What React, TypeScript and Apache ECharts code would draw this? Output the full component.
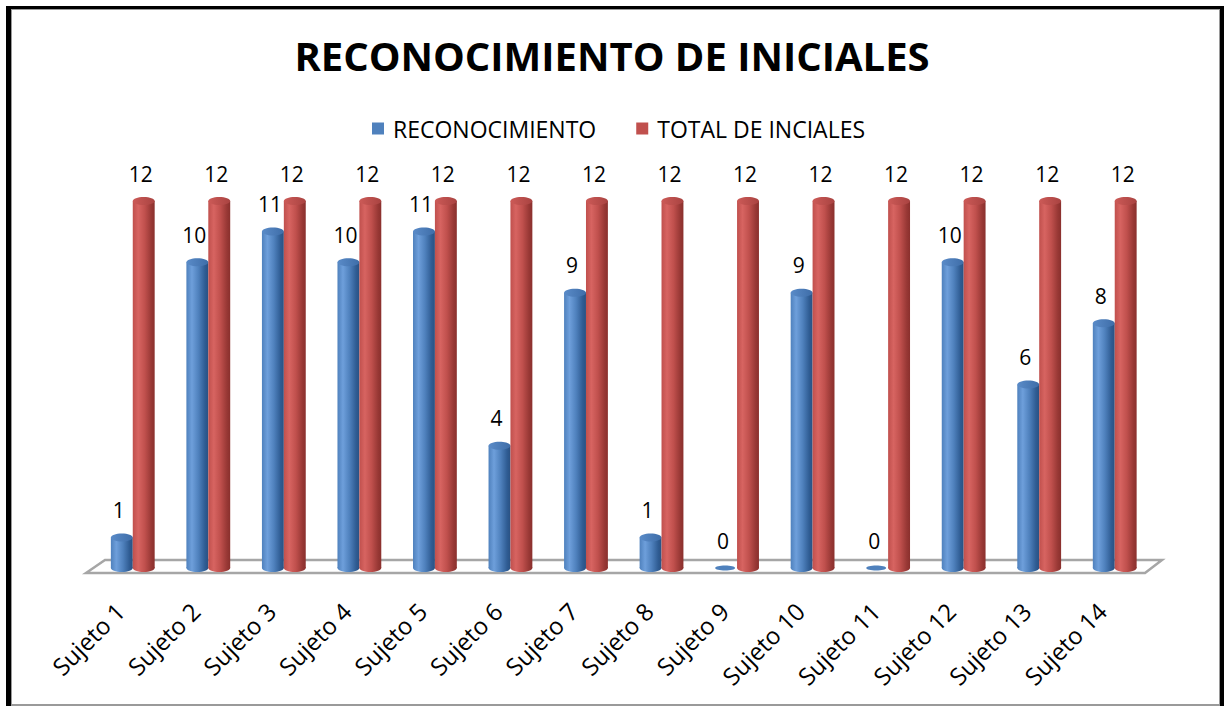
import React, { useEffect, useRef } from "react";
import * as echarts from "echarts";

const categories = [
  "Sujeto 1", "Sujeto 2", "Sujeto 3", "Sujeto 4", "Sujeto 5", "Sujeto 6", "Sujeto 7",
  "Sujeto 8", "Sujeto 9", "Sujeto 10", "Sujeto 11", "Sujeto 12", "Sujeto 13", "Sujeto 14",
];
const reconocimiento = [1, 10, 11, 10, 11, 4, 9, 1, 0, 9, 0, 10, 6, 8];
const totalIniciales = [12, 12, 12, 12, 12, 12, 12, 12, 12, 12, 12, 12, 12, 12];

const FONT = "Open Sans";

type Pal = { dark: string; light: string; mid: string; edge: string; cap1: string; cap2: string };
const bluePal: Pal = { dark: "#2F5C93", light: "#6E9FDB", mid: "#4F81BD", edge: "#2A5182", cap1: "#5A8BC8", cap2: "#3E6DA8" };
const redPal: Pal = { dark: "#983835", light: "#D76461", mid: "#C0504D", edge: "#8A302D", cap1: "#CC5A57", cap2: "#A94341" };

function makeRenderItem(sign: number, pal: Pal) {
  return (params: any, api: any) => {
    const idx = api.value(0);
    const val = api.value(1);
    const base = api.coord([idx, 0]);
    const top = api.coord([idx, val]);
    const band = api.size([1, 0])[0];
    const w = band * 0.29;
    const cx = base[0] + (sign * w) / 2;
    const ry = 4;
    const grad = new echarts.graphic.LinearGradient(0, 0, 1, 0, [
      { offset: 0, color: pal.mid },
      { offset: 0.25, color: pal.light },
      { offset: 0.55, color: pal.mid },
      { offset: 0.85, color: pal.dark },
      { offset: 1, color: pal.edge },
    ]);
    const capGrad = new echarts.graphic.LinearGradient(0, 0, 1, 0, [
      { offset: 0, color: pal.cap1 },
      { offset: 1, color: pal.cap2 },
    ]);
    const children: any[] = [];
    if (val > 0) {
      children.push({ type: "ellipse", shape: { cx, cy: base[1], rx: w / 2, ry }, style: { fill: grad } });
      children.push({
        type: "rect",
        shape: { x: cx - w / 2, y: top[1], width: w, height: base[1] - top[1] },
        style: { fill: grad },
      });
      children.push({ type: "ellipse", shape: { cx, cy: top[1], rx: w / 2, ry }, style: { fill: capGrad } });
    } else {
      children.push({
        type: "ellipse",
        shape: { cx: cx - 1, cy: base[1], rx: w / 2 - 1, ry: 2.5 },
        style: { fill: pal.mid },
      });
    }
    children.push({
      type: "text",
      style: {
        text: String(val),
        x: cx - 3,
        y: top[1] - 17,
        align: "center",
        verticalAlign: "bottom",
        fontSize: 21,
        fontFamily: FONT,
        fill: "#000",
      },
    });
    return { type: "group", children };
  };
}

export default function App() {
  const ref = useRef<HTMLDivElement>(null);
  useEffect(() => {
    if (!ref.current) return;
    const chart = echarts.init(ref.current, undefined, { renderer: "svg" });
    chart.setOption({
      animation: false,
      backgroundColor: "#ffffff",
      title: {
        text: "RECONOCIMIENTO DE INICIALES",
        left: "center",
        top: 30,
        textStyle: { fontFamily: FONT, fontWeight: "bold", fontSize: 40, color: "#000" },
      },
      legend: {
        top: 112,
        left: 367,
        icon: "rect",
        itemWidth: 12,
        itemHeight: 12,
        itemGap: 40,
        textStyle: { fontFamily: FONT, fontSize: 23, color: "#000", padding: [0, 0, 0, 4] },
        data: ["RECONOCIMIENTO", "TOTAL DE INCIALES"],
      },
      grid: { left: 95, right: 71.5, top: 201, bottom: 138, containLabel: false },
      xAxis: {
        type: "category",
        data: categories,
        axisLine: { show: false },
        axisTick: { show: false },
        axisLabel: {
          rotate: 45,
          margin: 26,
          interval: 0,
          padding: [0, 18, 0, 0],
          fontFamily: FONT,
          fontSize: 24,
          color: "#000",
        },
      },
      yAxis: { type: "value", min: 0, max: 12, show: false, splitLine: { show: false } },
      graphic: [
        {
          type: "polygon",
          z: 0,
          shape: { points: [[86, 573], [105, 560], [1162, 560], [1145, 573]] },
          style: { fill: "#ffffff", stroke: "#A6A6A6", lineWidth: 2.5 },
        },
        { type: "rect", z: 100, shape: { x: 6, y: 6, width: 1218, height: 3 }, style: { fill: "#000" } },
        { type: "rect", z: 100, shape: { x: 6, y: 6, width: 5, height: 700 }, style: { fill: "#000" } },
        { type: "rect", z: 100, shape: { x: 1220, y: 6, width: 4, height: 700 }, style: { fill: "#000" } },
        { type: "rect", z: 100, shape: { x: 11, y: 9, width: 1209, height: 1 }, style: { fill: "#9a9a9a" } },
        { type: "rect", z: 100, shape: { x: 11, y: 9, width: 1, height: 697 }, style: { fill: "#9a9a9a" } },
        { type: "rect", z: 100, shape: { x: 1219, y: 9, width: 1, height: 697 }, style: { fill: "#9a9a9a" } },
        { type: "rect", z: 100, shape: { x: 11, y: 704, width: 1209, height: 2 }, style: { fill: "#9a9a9a" } },
      ],
      series: [
        {
          name: "RECONOCIMIENTO",
          type: "custom",
          z: 3,
          itemStyle: { color: "#4F81BD" },
          renderItem: makeRenderItem(-1, bluePal),
          encode: { x: 0, y: 1 },
          data: reconocimiento.map((v, i) => [i, v]),
        },
        {
          name: "TOTAL DE INCIALES",
          type: "custom",
          z: 4,
          itemStyle: { color: "#C0504D" },
          renderItem: makeRenderItem(1, redPal),
          encode: { x: 0, y: 1 },
          data: totalIniciales.map((v, i) => [i, v]),
        },
      ],
    });
    return () => chart.dispose();
  }, []);
  return (
    <div
      ref={ref}
      style={{ position: "absolute", left: 0, top: 0, width: 1224, height: 706, background: "#fff" }}
    />
  );
}
